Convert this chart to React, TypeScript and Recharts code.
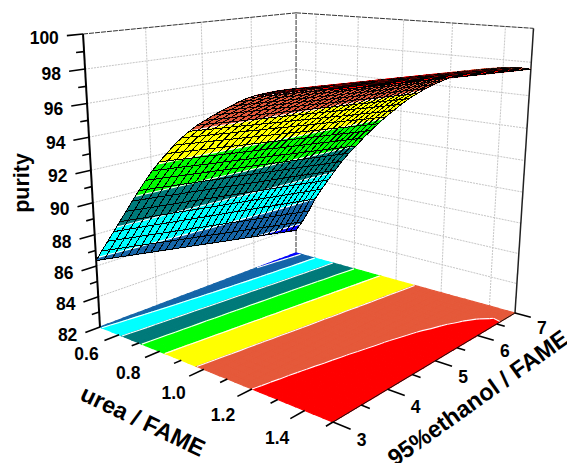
import React from "react";
import { ScatterChart, Scatter, XAxis, YAxis } from "recharts";

// Values: contour crossings on the floor and the surface
// edges were read directly; cells between those readings are hand estimates.
const ureaGrid = [0.5,0.533,0.567,0.6,0.633,0.667,0.7,0.733,0.767,0.8,0.833,0.867,0.9,0.933,0.967,1.0,1.033,1.067,1.1,1.133,1.167,1.2,1.233,1.267,1.3,1.333,1.367,1.4,1.433,1.467,1.5];
const ethanolGrid = [3,3.133,3.267,3.4,3.533,3.667,3.8,3.933,4.067,4.2,4.333,4.467,4.6,4.733,4.867,5,5.133,5.267,5.4,5.533,5.667,5.8,5.933,6.067,6.2,6.333,6.467,6.6,6.733,6.867,7];
const purity = [
[86.35,86.27,86.18,86.10,86.01,85.93,85.84,85.76,85.67,85.59,85.50,85.42,85.33,85.25,85.16,85.08,84.99,84.91,84.82,84.74,84.65,84.57,84.48,84.40,84.31,84.23,84.14,84.06,83.97,83.89,83.80],
[87.10,87.02,86.93,86.85,86.77,86.68,86.60,86.52,86.43,86.35,86.27,86.18,86.10,86.02,85.93,85.85,85.77,85.68,85.60,85.52,85.43,85.35,85.27,85.18,85.10,85.02,84.93,84.85,84.77,84.68,84.60],
[87.85,87.77,87.70,87.62,87.54,87.47,87.39,87.31,87.24,87.16,87.08,87.01,86.93,86.85,86.78,86.70,86.62,86.55,86.47,86.39,86.32,86.24,86.16,86.09,86.01,85.93,85.86,85.78,85.70,85.63,85.55],
[88.57,88.50,88.44,88.37,88.31,88.24,88.18,88.11,88.04,87.98,87.91,87.85,87.78,87.72,87.65,87.58,87.52,87.45,87.39,87.32,87.26,87.19,87.12,87.06,86.99,86.93,86.86,86.80,86.73,86.67,86.60],
[89.30,89.24,89.18,89.11,89.05,88.99,88.93,88.87,88.81,88.74,88.68,88.62,88.56,88.50,88.44,88.38,88.31,88.25,88.19,88.13,88.07,88.00,87.94,87.88,87.82,87.76,87.70,87.63,87.57,87.51,87.45],
[90.05,89.99,89.93,89.87,89.81,89.75,89.69,89.63,89.57,89.51,89.45,89.39,89.33,89.27,89.21,89.15,89.09,89.03,88.97,88.91,88.85,88.79,88.73,88.67,88.61,88.55,88.49,88.43,88.37,88.31,88.25],
[90.78,90.72,90.66,90.61,90.55,90.49,90.43,90.38,90.32,90.26,90.20,90.15,90.09,90.03,89.97,89.92,89.86,89.80,89.74,89.69,89.63,89.57,89.51,89.45,89.40,89.34,89.28,89.22,89.17,89.11,89.05],
[91.50,91.44,91.39,91.33,91.27,91.22,91.16,91.10,91.05,90.99,90.93,90.88,90.82,90.76,90.71,90.65,90.59,90.54,90.48,90.42,90.37,90.31,90.25,90.20,90.14,90.08,90.03,89.97,89.91,89.86,89.80],
[92.20,92.14,92.09,92.03,91.97,91.92,91.86,91.80,91.75,91.69,91.63,91.58,91.52,91.46,91.41,91.35,91.29,91.24,91.18,91.12,91.07,91.01,90.95,90.90,90.84,90.78,90.73,90.67,90.61,90.56,90.50],
[92.85,92.79,92.73,92.68,92.62,92.56,92.50,92.44,92.38,92.33,92.27,92.21,92.15,92.09,92.03,91.98,91.92,91.86,91.80,91.74,91.68,91.63,91.57,91.51,91.45,91.39,91.33,91.28,91.22,91.16,91.10],
[93.45,93.39,93.34,93.28,93.22,93.17,93.11,93.05,93.00,92.94,92.88,92.83,92.77,92.71,92.66,92.60,92.54,92.49,92.43,92.37,92.32,92.26,92.20,92.15,92.09,92.03,91.98,91.92,91.86,91.81,91.75],
[94.00,93.95,93.89,93.84,93.78,93.73,93.67,93.62,93.56,93.51,93.45,93.40,93.34,93.29,93.23,93.18,93.12,93.07,93.01,92.96,92.90,92.85,92.79,92.74,92.68,92.63,92.57,92.52,92.46,92.41,92.35],
[94.55,94.50,94.44,94.39,94.33,94.28,94.22,94.17,94.11,94.06,94.00,93.95,93.89,93.84,93.78,93.73,93.67,93.62,93.56,93.51,93.45,93.40,93.34,93.29,93.23,93.18,93.12,93.07,93.01,92.96,92.90],
[95.03,94.98,94.92,94.87,94.82,94.77,94.71,94.66,94.61,94.56,94.50,94.45,94.40,94.35,94.29,94.24,94.19,94.14,94.08,94.03,93.98,93.92,93.87,93.82,93.77,93.71,93.66,93.61,93.56,93.50,93.45],
[95.47,95.42,95.37,95.32,95.27,95.22,95.17,95.12,95.06,95.01,94.96,94.91,94.86,94.81,94.76,94.71,94.66,94.61,94.56,94.51,94.46,94.40,94.35,94.30,94.25,94.20,94.15,94.10,94.05,94.00,93.95],
[95.87,95.82,95.78,95.73,95.68,95.63,95.59,95.54,95.49,95.44,95.40,95.35,95.30,95.25,95.21,95.16,95.11,95.07,95.02,94.97,94.92,94.88,94.83,94.78,94.73,94.69,94.64,94.59,94.54,94.50,94.45],
[96.20,96.16,96.11,96.07,96.03,95.98,95.94,95.90,95.85,95.81,95.77,95.72,95.68,95.64,95.59,95.55,95.51,95.46,95.42,95.38,95.33,95.29,95.25,95.20,95.16,95.12,95.07,95.03,94.99,94.94,94.90],
[96.55,96.51,96.47,96.42,96.38,96.34,96.30,96.26,96.22,96.17,96.13,96.09,96.05,96.01,95.97,95.92,95.88,95.84,95.80,95.76,95.72,95.67,95.63,95.59,95.55,95.51,95.47,95.42,95.38,95.34,95.30],
[96.85,96.81,96.77,96.73,96.69,96.66,96.62,96.58,96.54,96.50,96.46,96.42,96.38,96.34,96.30,96.27,96.23,96.19,96.15,96.11,96.07,96.03,95.99,95.95,95.91,95.88,95.84,95.80,95.76,95.72,95.68],
[97.15,97.11,97.07,97.04,97.00,96.96,96.92,96.88,96.84,96.81,96.77,96.73,96.69,96.65,96.61,96.58,96.54,96.50,96.46,96.42,96.38,96.35,96.31,96.27,96.23,96.19,96.15,96.12,96.08,96.04,96.00],
[97.45,97.41,97.37,97.34,97.30,97.26,97.22,97.18,97.14,97.11,97.07,97.03,96.99,96.95,96.91,96.88,96.84,96.80,96.76,96.72,96.68,96.65,96.61,96.57,96.53,96.49,96.45,96.42,96.38,96.34,96.30],
[97.70,97.66,97.63,97.59,97.55,97.51,97.48,97.44,97.40,97.36,97.33,97.29,97.25,97.21,97.18,97.14,97.10,97.07,97.03,96.99,96.95,96.92,96.88,96.84,96.80,96.77,96.73,96.69,96.65,96.62,96.58],
[97.90,97.86,97.83,97.79,97.76,97.72,97.68,97.65,97.61,97.58,97.54,97.50,97.47,97.43,97.40,97.36,97.32,97.29,97.25,97.22,97.18,97.14,97.11,97.07,97.04,97.00,96.96,96.93,96.89,96.86,96.82],
[98.07,98.04,98.00,97.97,97.93,97.90,97.86,97.83,97.79,97.76,97.72,97.69,97.65,97.62,97.58,97.55,97.51,97.48,97.44,97.41,97.37,97.34,97.30,97.27,97.23,97.20,97.16,97.13,97.09,97.06,97.02],
[98.22,98.19,98.15,98.12,98.08,98.05,98.02,97.98,97.95,97.91,97.88,97.85,97.81,97.78,97.74,97.71,97.68,97.64,97.61,97.57,97.54,97.51,97.47,97.44,97.40,97.37,97.34,97.30,97.27,97.23,97.20],
[98.35,98.32,98.28,98.25,98.22,98.18,98.15,98.11,98.08,98.05,98.01,97.98,97.95,97.91,97.88,97.85,97.81,97.78,97.74,97.71,97.68,97.64,97.61,97.58,97.54,97.51,97.48,97.44,97.41,97.37,97.34],
[98.45,98.42,98.38,98.35,98.32,98.28,98.25,98.21,98.18,98.15,98.11,98.08,98.05,98.01,97.98,97.95,97.91,97.88,97.84,97.81,97.78,97.74,97.71,97.68,97.64,97.61,97.58,97.54,97.51,97.47,97.44],
[98.53,98.50,98.46,98.43,98.40,98.36,98.33,98.29,98.26,98.23,98.19,98.16,98.13,98.09,98.06,98.03,97.99,97.96,97.92,97.89,97.86,97.82,97.79,97.76,97.72,97.69,97.66,97.62,97.59,97.55,97.52],
[98.58,98.55,98.51,98.48,98.45,98.41,98.38,98.34,98.31,98.28,98.24,98.21,98.18,98.14,98.11,98.08,98.04,98.01,97.97,97.94,97.91,97.87,97.84,97.81,97.77,97.74,97.71,97.67,97.64,97.60,97.57],
[98.62,98.59,98.55,98.52,98.49,98.45,98.42,98.38,98.35,98.32,98.28,98.25,98.22,98.18,98.15,98.12,98.08,98.05,98.01,97.98,97.95,97.91,97.88,97.85,97.81,97.78,97.75,97.71,97.68,97.65,97.61],
[98.64,98.61,98.57,98.54,98.50,98.47,98.43,98.40,98.36,98.33,98.29,98.26,98.22,98.19,98.15,98.12,98.08,98.05,98.01,97.98,97.94,97.91,97.87,97.84,97.80,97.77,97.73,97.70,97.66,97.63,97.59],
];
const contourLevels = [84.4, 86.6, 88.9, 91.1, 93.3, 95.5, 97.7];
const bandColors = ["#0000ff", "#1565a8", "#00ffff", "#007a7a", "#00ff00", "#ffff00", "#e5593a", "#ff0000"];
const purityTicks = [82, 84, 86, 88, 90, 92, 94, 96, 98, 100];
const purityMinorTicks = [83, 85, 87, 89, 91, 93, 95, 97, 99];
const ureaTicks = [0.6, 0.8, 1.0, 1.2, 1.4];
const ureaMinorTicks = [0.7, 0.9, 1.1, 1.3, 1.5];
const ethanolTicks = [3, 4, 5, 6, 7];
const ethanolMinorTicks = [3.5, 4.5, 5.5, 6.5];
const gridPurity = [84, 86, 88, 90, 92, 94, 96, 98];
const gridEthanol = [4, 5, 6];

const W = 567, H = 463;
const FONT = '"Liberation Sans", Arial, sans-serif';

// perspective box: urea .5-1.5, ethanol 3-7, purity 82-100
function project(u: number, e: number, z: number) {
  const a = u - 0.5, b = (e - 3) / 4, c = (z - 82) / 18;
  const g = -0.1962, h = 0.227, w3 = -0.08;
  const d = 1 + g * a + h * b + w3 * c;
  const x = (100 + (333 * (1 + g) - 100) * a + (296 * (1 + h) - 100) * b - 23.6 * c) / d;
  const y = (327 + (422 * (1 + g) - 327) * a + (253 * (1 + h) - 327) * b - 295.7 * c) / d;
  return { x, y, d };
}

type V = { u: number; e: number; z: number };
const lerp = (p: V, q: V, t: number): V => ({ u: p.u + (q.u - p.u) * t, e: p.e + (q.e - p.e) * t, z: p.z + (q.z - p.z) * t });
function clip(poly: V[], level: number, keepAbove: boolean): V[] {
  const out: V[] = [];
  for (let i = 0; i < poly.length; i++) {
    const p = poly[i], q = poly[(i + 1) % poly.length];
    const pi = keepAbove ? p.z >= level : p.z < level;
    const qi = keepAbove ? q.z >= level : q.z < level;
    if (pi) out.push(p);
    if (pi !== qi) out.push(lerp(p, q, (level - p.z) / (q.z - p.z)));
  }
  return out;
}
function crossings(poly: V[], level: number): V[] {
  const out: V[] = [];
  for (let i = 0; i < poly.length; i++) {
    const p = poly[i], q = poly[(i + 1) % poly.length];
    if ((p.z < level) !== (q.z < level)) out.push(lerp(p, q, (level - p.z) / (q.z - p.z)));
  }
  return out;
}

type Item = { fill?: string; stroke?: string; sw?: number; dash?: string; crisp?: boolean; pts: { x: number; y: number }[]; close?: boolean };
type Mark = { sx: number; sy: number; items: Item[] };
const anchorOf = (items: Item[]): Mark => ({ sx: items[0].pts[0].x, sy: items[0].pts[0].y, items });

function cellPoly(r: number, k: number): V[] {
  return [
    { u: ureaGrid[r], e: ethanolGrid[k], z: purity[r][k] },
    { u: ureaGrid[r + 1], e: ethanolGrid[k], z: purity[r + 1][k] },
    { u: ureaGrid[r + 1], e: ethanolGrid[k + 1], z: purity[r + 1][k + 1] },
    { u: ureaGrid[r], e: ethanolGrid[k + 1], z: purity[r][k + 1] },
  ];
}
function bandItems(poly: V[], toXY: (v: V) => { x: number; y: number }, sw: number): Item[] {
  const items: Item[] = [];
  bandColors.forEach((col, i) => {
    let f = poly;
    if (i > 0) f = clip(f, contourLevels[i - 1], true);
    if (f.length && i < contourLevels.length) f = clip(f, contourLevels[i], false);
    if (f.length >= 3) items.push({ fill: col, stroke: col, sw, pts: f.map(toXY), close: true });
  });
  return items;
}
function contourItems(poly: V[], toXY: (v: V) => { x: number; y: number }): Item[] {
  const items: Item[] = [];
  contourLevels.forEach((lv) => {
    const c = crossings(poly, lv);
    if (c.length >= 2) items.push({ stroke: "#ffffff", sw: 1.1, pts: [toXY(c[0]), toXY(c[1])] });
  });
  return items;
}

const floorXY = (v: V) => { const p = project(v.u, v.e, 82); return { x: p.x, y: p.y }; };
const surfXY = (v: V) => { const p = project(v.u, v.e, v.z); return { x: p.x, y: p.y }; };

const floorMarks: Mark[] = [];
const floorContourMarks: Mark[] = [];
const surfaceCells: { d: number; m: Mark }[] = [];
for (let r = 0; r < ureaGrid.length - 1; r++) {
  for (let k = 0; k < ethanolGrid.length - 1; k++) {
    const poly = cellPoly(r, k);
    floorMarks.push(anchorOf(bandItems(poly, floorXY, 1.2)));
    const fc = contourItems(poly, floorXY);
    if (fc.length) floorContourMarks.push(anchorOf(fc));
    const items = [
      ...bandItems(poly, surfXY, 0.6),
      ...contourItems(poly, surfXY),
      { stroke: "#000000", sw: 1, crisp: true, pts: poly.map(surfXY), close: true },
    ];
    const ctr = project((ureaGrid[r] + ureaGrid[r + 1]) / 2, (ethanolGrid[k] + ethanolGrid[k + 1]) / 2, purity[r][k]);
    surfaceCells.push({ d: ctr.d, m: anchorOf(items) });
  }
}
const surfaceMarks = surfaceCells.sort((p, q) => q.d - p.d).map((c) => c.m);

const seg = (p: { x: number; y: number }, q: { x: number; y: number }, stroke: string, sw: number, dash?: string): Mark =>
  anchorOf([{ stroke, sw, dash, pts: [p, q] }]);

const GRID = "#c6c6c6";
const wallMarks: Mark[] = [
  ...gridPurity.map((z) => seg(project(0.5, 3, z), project(0.5, 7, z), GRID, 1, "2 1")),
  ...gridPurity.map((z) => seg(project(0.5, 7, z), project(1.5, 7, z), GRID, 1, "2 1")),
  ...gridEthanol.map((e) => seg(project(0.5, e, 82), project(0.5, e, 100), GRID, 1, "2 1")),
  ...ureaTicks.map((u) => seg(project(u, 7, 82), project(u, 7, 100), GRID, 1, "2 1")),
  seg(project(0.5, 3, 100), project(0.5, 7, 100), "#333", 1, "5 1"),
  seg(project(0.5, 7, 100), project(1.5, 7, 100), "#333", 1, "5 1"),
  seg(project(0.5, 7, 82), project(0.5, 7, 100), "#333", 1, "5 1"),
];
const frameMarks: Mark[] = [
  seg(project(0.5, 3, 82), project(0.5, 3, 100), "#000", 2),
  seg(project(1.5, 7, 82), project(1.5, 7, 100), "#222", 1.5),
  seg(project(1.5, 3, 82), project(1.5, 7, 82), "#111", 1),
  ...purityTicks.map((z) => seg(project(0.5, 3, z), project(0.5, 2.76, z), "#000", 1.6)),
  ...purityMinorTicks.map((z) => seg(project(0.5, 3, z), project(0.5, 2.88, z), "#000", 1.6)),
  ...ureaTicks.map((u) => seg(project(u, 3, 82), project(u, 2.76, 82), "#000", 1.6)),
  ...ureaMinorTicks.map((u) => seg(project(u, 3, 82), project(u, 2.88, 82), "#000", 1.6)),
  ...ethanolTicks.map((e) => seg(project(1.5, e, 82), project(1.56, e, 82), "#000", 1.6)),
  ...ethanolMinorTicks.map((e) => seg(project(1.5, e, 82), project(1.53, e, 82), "#000", 1.6)),
];

type Lab = { sx: number; sy: number; text: string; dx: number; dy: number; anchor: string; size: number; rot?: number };
const labels: Lab[] = [
  ...purityTicks.map((z) => { const p = project(0.5, 2.76, z); return { sx: p.x, sy: p.y, text: String(z), dx: -8, dy: 2.5, anchor: "end", size: 17.5 }; }),
  ...ureaTicks.map((u) => { const p = project(u, 2.76, 82); return { sx: p.x, sy: p.y, text: u.toFixed(1), dx: -18 + (u - 0.6) * 6, dy: 13.5 + (u - 0.6) * 8, anchor: "middle", size: 17.5 }; }),
  ...ethanolTicks.map((e) => { const p = project(1.56, e, 82); return { sx: p.x, sy: p.y, text: String(e), dx: 11, dy: 11, anchor: "middle", size: 17.5 }; }),
  { sx: 22, sy: 183, text: "purity", dx: 0, dy: 0, anchor: "middle", size: 21.5, rot: -90 },
  { sx: 143, sy: 421, text: "urea / FAME", dx: 0, dy: 0, anchor: "middle", size: 23.5, rot: 25.5 },
  { sx: 478, sy: 398, text: "95%ethanol / FAME", dx: 0, dy: 0, anchor: "middle", size: 23.5, rot: -35.5 },
];

const PathShape = (props: any) => {
  const { cx, cy, payload } = props;
  const m: Mark = payload;
  return (
    <g>
      {m.items.map((it, i) => (
        <path
          key={i}
          d={it.pts.map((p, j) => `${j ? "L" : "M"}${(p.x - m.sx + cx).toFixed(2)} ${(p.y - m.sy + cy).toFixed(2)}`).join("") + (it.close ? "Z" : "")}
          fill={it.fill ?? "none"}
          stroke={it.stroke ?? "none"}
          strokeWidth={it.sw ?? 1}
          strokeDasharray={it.dash}
          shapeRendering={it.crisp ? "crispEdges" : undefined}
        />
      ))}
    </g>
  );
};

const LabelShape = (props: any) => {
  const { cx, cy, payload } = props;
  const l: Lab = payload;
  const x = cx + l.dx, y = cy + l.dy;
  return (
    <text x={x} y={y} textAnchor={l.anchor as any} dominantBaseline="central" fontFamily={FONT} fontWeight="bold" fontSize={l.size} fill="#000"
      transform={l.rot ? `rotate(${l.rot} ${x} ${y})` : undefined}>
      {l.text}
    </text>
  );
};

export default function App() {
  return (
    <div style={{ position: "absolute", left: 0, top: 0, width: W, height: H, background: "#fff", overflow: "hidden" }}>
      <ScatterChart width={W} height={H} margin={{ top: 0, right: 0, bottom: 0, left: 0 }}>
        <XAxis type="number" dataKey="sx" domain={[0, W]} hide allowDataOverflow />
        <YAxis type="number" dataKey="sy" domain={[0, H]} hide reversed allowDataOverflow />
        <Scatter name="walls" data={wallMarks} shape={PathShape} isAnimationActive={false} />
        <Scatter name="floor" data={floorMarks} shape={PathShape} isAnimationActive={false} />
        <Scatter name="floorContours" data={floorContourMarks} shape={PathShape} isAnimationActive={false} />
        <Scatter name="frame" data={frameMarks} shape={PathShape} isAnimationActive={false} />
        <Scatter name="surface" data={surfaceMarks} shape={PathShape} isAnimationActive={false} />
        <Scatter name="labels" data={labels} shape={LabelShape} isAnimationActive={false} />
      </ScatterChart>
    </div>
  );
}
